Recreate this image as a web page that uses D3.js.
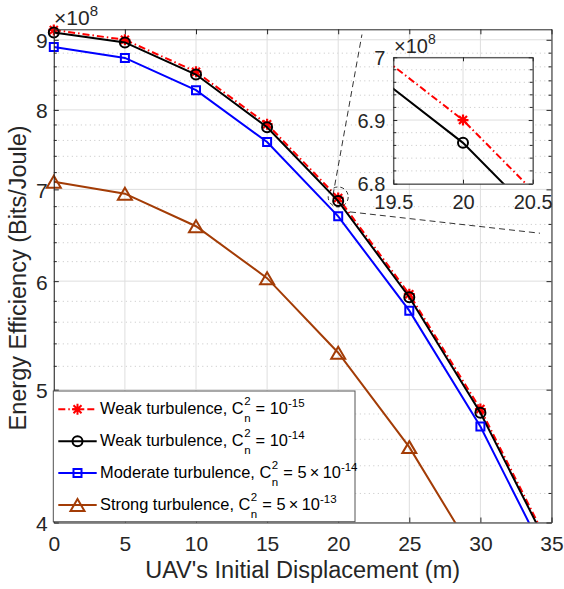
<!DOCTYPE html>
<html><head><meta charset="utf-8">
<script src="https://cdn.jsdelivr.net/npm/d3@7"></script>
<style>
body{margin:0;background:#fff}
text{font-family:"Liberation Sans",Arial,Helvetica,sans-serif;white-space:pre}
</style></head>
<body><svg id="c" width="564" height="589"></svg>
<script>
// ---- data (energy efficiency in units of 10^8 bits/Joule) ----
const displacement = [0, 5, 10, 15, 20, 25, 30, 35];
const weak15   = [9.15, 9.00, 8.53, 7.81, 6.90, 5.87, 4.84, 3.82];
const weak14   = [9.11, 8.96, 8.49, 7.77, 6.864, 5.84, 4.81, 3.80];
const moderate = [8.89, 8.73, 8.27, 7.58, 6.69, 5.71, 4.70, 3.71];
const strong   = [7.09, 6.95, 6.58, 6.03, 5.32, 4.54, 3.73, 2.95];
const xTickVals = [0, 5, 10, 15, 20, 25, 30, 35];
const yTickVals = [4, 5, 6, 7, 8, 9];
const yMinorVals = [4.2,4.4,4.6,4.8,5.2,5.4,5.6,5.8,6.2,6.4,6.6,6.8,7.2,7.4,7.6,7.8,8.2,8.4,8.6,8.8];
const insetXTicks = [19.5, 20, 20.5];
const insetYTicks = [6.8, 6.9, 7.0];
const insetYMinor = [6.82,6.84,6.86,6.88,6.92,6.94,6.96,6.98];
const seriesNames = ["Weak turbulence, C", "Weak turbulence, C", "Moderate turbulence, C", "Strong turbulence, C"];
const seriesC2 = ["10", "10", "5\u2009×\u200910", "5\u2009×\u200910"];
const seriesExp = ["-15", "-14", "-14", "-13"];
const xLabel = "UAV's Initial Displacement (m)";
const yLabel = "Energy Efficiency (Bits/Joule)";
// zoom annotation (data coordinates)
const zoomCenter = [20, 6.9];
const guide1 = [[19.63, 6.93], [21.67, 9.08]];
const guide2 = [[20.83, 6.74], [34.19, 6.503]];

const series = [
  {v: weak15,   color: "#ff0000", dash: "7,3,1.5,3", marker: "star"},
  {v: weak14,   color: "#000000", dash: null, marker: "circle"},
  {v: moderate, color: "#0000ff", dash: null, marker: "square"},
  {v: strong,   color: "#a33c06", dash: null, marker: "triangle"}
];

const svg = d3.select("#c");
const AX = "#262626";
const L = 53.8, R = 551.5, T = 29.3, B = 522.5;
const x = d3.scaleLinear().domain([0, 35]).range([L, R]);
const y = d3.scaleLog().domain([4, 9.16]).range([B, T]);

// grid
const grid = svg.append("g");
grid.selectAll(".ym").data(yMinorVals).join("line")
  .attr("x1", L).attr("x2", R).attr("y1", d => y(d)).attr("y2", d => y(d))
  .attr("stroke", "#c4c4c4").attr("stroke-width", 1).attr("stroke-dasharray", "1,3.5");
grid.selectAll(".yg").data(yTickVals).join("line")
  .attr("x1", L).attr("x2", R).attr("y1", d => y(d)).attr("y2", d => y(d))
  .attr("stroke", "#dedede").attr("stroke-width", 1);
grid.selectAll(".xg").data(xTickVals).join("line")
  .attr("y1", T).attr("y2", B).attr("x1", d => x(d)).attr("x2", d => x(d))
  .attr("stroke", "#dedede").attr("stroke-width", 1);

// clip
const defs = svg.append("defs");
defs.append("clipPath").attr("id", "plotclip").append("rect")
  .attr("x", L).attr("y", T).attr("width", R - L).attr("height", B - T);

function markerPath(type) {
  if (type === "star") {
    const r = 5.5, q = 4;
    return `M${-r},0L${r},0M0,${-r}L0,${r}M${-q},${-q}L${q},${q}M${-q},${q}L${q},${-q}`;
  }
  if (type === "circle") return "M5,0A5,5 0 1,1 -5,0A5,5 0 1,1 5,0Z";
  if (type === "square") return "M-4,-4L4,-4L4,4L-4,4Z";
  return "M0,-6L7,6L-7,6Z";
}

function drawSeries(g, xs, ys, clipId, yDom, xDom) {
  series.forEach(s => {
    const pts = displacement.map((d, i) => [d, s.v[i]]);
    g.append("path").datum(pts)
      .attr("clip-path", `url(#${clipId})`)
      .attr("fill", "none").attr("stroke", s.color).attr("stroke-width", 2)
      .attr("stroke-dasharray", s.dash)
      .attr("d", d3.line().x(d => xs(d[0])).y(d => ys(d[1])));
    g.selectAll(null).data(pts.filter(p => p[1] >= yDom[0] && p[1] <= yDom[1] + 0.05 && p[0] >= xDom[0] && p[0] <= xDom[1]))
      .join("path")
      .attr("transform", d => `translate(${xs(d[0])},${ys(d[1])})`)
      .attr("d", markerPath(s.marker))
      .attr("fill", "none").attr("stroke", s.color).attr("stroke-width", s.marker === "star" ? 2.2 : 2);
  });
}
drawSeries(svg.append("g"), x, y, "plotclip", [4, 9.16], [0, 35]);

// axes
const fs = 21;
function styleAxis(g) {
  g.select(".domain").attr("stroke", AX);
  g.selectAll(".tick line").attr("stroke", AX);
  g.selectAll("text").attr("fill", AX).attr("font-size", fs)
    .attr("font-family", '"Liberation Sans",Arial,sans-serif');
}
svg.append("g").attr("transform", `translate(0,${B})`)
  .call(d3.axisBottom(x).tickValues(xTickVals).tickFormat(d3.format("d")).tickSize(-5).tickSizeOuter(0).tickPadding(13.5))
  .call(styleAxis);
svg.append("g").attr("transform", `translate(0,${T})`)
  .call(d3.axisTop(x).tickValues(xTickVals).tickFormat("").tickSize(-5).tickSizeOuter(0))
  .call(styleAxis);
svg.append("g").attr("transform", `translate(${L},0)`)
  .call(d3.axisLeft(y).tickValues(yTickVals).tickFormat(d3.format("d")).tickSize(-5).tickSizeOuter(0).tickPadding(6))
  .call(styleAxis)
  .call(g => g.selectAll("text").attr("dy", "0.38em"));
svg.append("g").attr("transform", `translate(${R},0)`)
  .call(d3.axisRight(y).tickValues(yTickVals).tickFormat("").tickSize(-5).tickSizeOuter(0))
  .call(styleAxis);
// minor ticks
[L, R].forEach((px, k) => {
  svg.append("g").selectAll("line").data(yMinorVals).join("line")
    .attr("x1", px).attr("x2", px + (k === 0 ? 3 : -3))
    .attr("y1", d => y(d)).attr("y2", d => y(d)).attr("stroke", AX);
});

// exponent label
const ex = svg.append("text").attr("x", 54).attr("y", 25).attr("fill", AX).attr("font-size", 21);
ex.append("tspan").text("×10");
ex.append("tspan").attr("font-size", 15).attr("dy", -9).text("8");

// axis titles
svg.append("text").attr("x", (L + R) / 2).attr("y", 578).attr("text-anchor", "middle")
  .attr("font-size", 23.5).attr("fill", AX).text(xLabel);
svg.append("text").attr("transform", `translate(26,${(T + B) / 2 + 2}) rotate(-90)`)
  .attr("text-anchor", "middle").attr("font-size", 23.5).attr("fill", AX).text(yLabel);

// zoom annotation
const zx = x(zoomCenter[0]), zy = y(zoomCenter[1]);
svg.append("ellipse").attr("cx", zx).attr("cy", zy - 1).attr("rx", 10).attr("ry", 10)
  .attr("fill", "none").attr("stroke", "#000").attr("stroke-width", 0.8).attr("stroke-dasharray", "4,3");
[guide1, guide2].forEach(gd => {
  svg.append("line").attr("x1", x(gd[0][0])).attr("y1", y(gd[0][1]))
    .attr("x2", x(gd[1][0])).attr("y2", y(gd[1][1]))
    .attr("stroke", "#000").attr("stroke-width", 0.8).attr("stroke-dasharray", "6,4");
});

// inset
const IL = 393.3, IR = 532.7, IT = 57.3, IB = 183.7;
const xi = d3.scaleLinear().domain([19.5, 20.5]).range([IL, IR]);
const yi = d3.scaleLog().domain([6.8, 7.0]).range([IB, IT]);
const inset = svg.append("g");
inset.append("rect").attr("x", IL).attr("y", IT).attr("width", IR - IL).attr("height", IB - IT).attr("fill", "#fff");
defs.append("clipPath").attr("id", "insetclip").append("rect")
  .attr("x", IL).attr("y", IT).attr("width", IR - IL).attr("height", IB - IT);
inset.selectAll(".im").data(insetYMinor).join("line")
  .attr("x1", IL).attr("x2", IR).attr("y1", d => yi(d)).attr("y2", d => yi(d))
  .attr("stroke", "#c4c4c4").attr("stroke-dasharray", "1,3.5");
inset.selectAll(".ig").data(insetYTicks).join("line")
  .attr("x1", IL).attr("x2", IR).attr("y1", d => yi(d)).attr("y2", d => yi(d)).attr("stroke", "#dedede");
inset.selectAll(".ixg").data(insetXTicks).join("line")
  .attr("y1", IT).attr("y2", IB).attr("x1", d => xi(d)).attr("x2", d => xi(d)).attr("stroke", "#dedede");
drawSeries(inset.append("g"), xi, yi, "insetclip", [6.8, 7.0], [19.5, 20.5]);
const ifs = 20;
function styleInset(g) {
  g.select(".domain").attr("stroke", AX);
  g.selectAll(".tick line").attr("stroke", AX);
  g.selectAll("text").attr("fill", AX).attr("font-size", ifs);
}
inset.append("g").attr("transform", `translate(0,${IB})`)
  .call(d3.axisBottom(xi).tickValues(insetXTicks).tickFormat(d => d3.format("")(d)).tickSize(-4).tickSizeOuter(0).tickPadding(11))
  .call(styleInset);
inset.append("g").attr("transform", `translate(0,${IT})`)
  .call(d3.axisTop(xi).tickValues(insetXTicks).tickFormat("").tickSize(-4).tickSizeOuter(0)).call(styleInset);
inset.append("g").attr("transform", `translate(${IL},0)`)
  .call(d3.axisLeft(yi).tickValues(insetYTicks).tickFormat(d => d3.format("")(d)).tickSize(-4).tickSizeOuter(0).tickPadding(8))
  .call(styleInset).call(g => g.selectAll("text").attr("dy", "0.36em"));
inset.append("g").attr("transform", `translate(${IR},0)`)
  .call(d3.axisRight(yi).tickValues(insetYTicks).tickFormat("").tickSize(-4).tickSizeOuter(0)).call(styleInset);
[IL, IR].forEach((px, k) => {
  inset.append("g").selectAll("line").data(insetYMinor).join("line")
    .attr("x1", px).attr("x2", px + (k === 0 ? 3 : -3))
    .attr("y1", d => yi(d)).attr("y2", d => yi(d)).attr("stroke", AX);
});
const iex = inset.append("text").attr("x", 394).attr("y", 53).attr("fill", AX).attr("font-size", 20);
iex.append("tspan").text("×10");
iex.append("tspan").attr("font-size", 14).attr("dy", -9).text("8");

// legend
const LGx = 53.3, LGy = 391, LGw = 301.7, LGh = 130.7;
const lg = svg.append("g");
lg.append("rect").attr("x", LGx).attr("y", LGy).attr("width", LGw).attr("height", LGh)
  .attr("fill", "#fff").attr("stroke", "#555").attr("stroke-width", 1);
series.forEach((s, i) => {
  const base = 414.3 + i * 31.9;
  const cy = base - 5;
  lg.append("line").attr("x1", 58.3).attr("x2", 96.7).attr("y1", cy).attr("y2", cy)
    .attr("stroke", s.color).attr("stroke-width", 2).attr("stroke-dasharray", s.dash);
  lg.append("path").attr("transform", `translate(77.5,${cy})`).attr("d", markerPath(s.marker))
    .attr("fill", "none").attr("stroke", s.color).attr("stroke-width", 2);
  let cx = 100;
  const t1 = lg.append("text").attr("x", cx).attr("y", base).attr("font-size", 16.4).attr("fill", "#000").text(seriesNames[i]);
  cx += t1.node().getComputedTextLength() + 0.5;
  const sp = lg.append("text").attr("x", cx).attr("y", base - 9).attr("font-size", 11.5).attr("fill", "#000").text("2");
  const sb = lg.append("text").attr("x", cx).attr("y", base + 7.5).attr("font-size", 11.5).attr("fill", "#000").text("n");
  cx += Math.max(sp.node().getComputedTextLength(), sb.node().getComputedTextLength()) + 0.5;
  const t2 = lg.append("text").attr("x", cx).attr("y", base).attr("font-size", 16.4).attr("fill", "#000").text(" = " + seriesC2[i]);
  cx += t2.node().getComputedTextLength();
  lg.append("text").attr("x", cx).attr("y", base - 7.5).attr("font-size", 11.5).attr("fill", "#000").text(seriesExp[i]);
});
</script></body></html>
